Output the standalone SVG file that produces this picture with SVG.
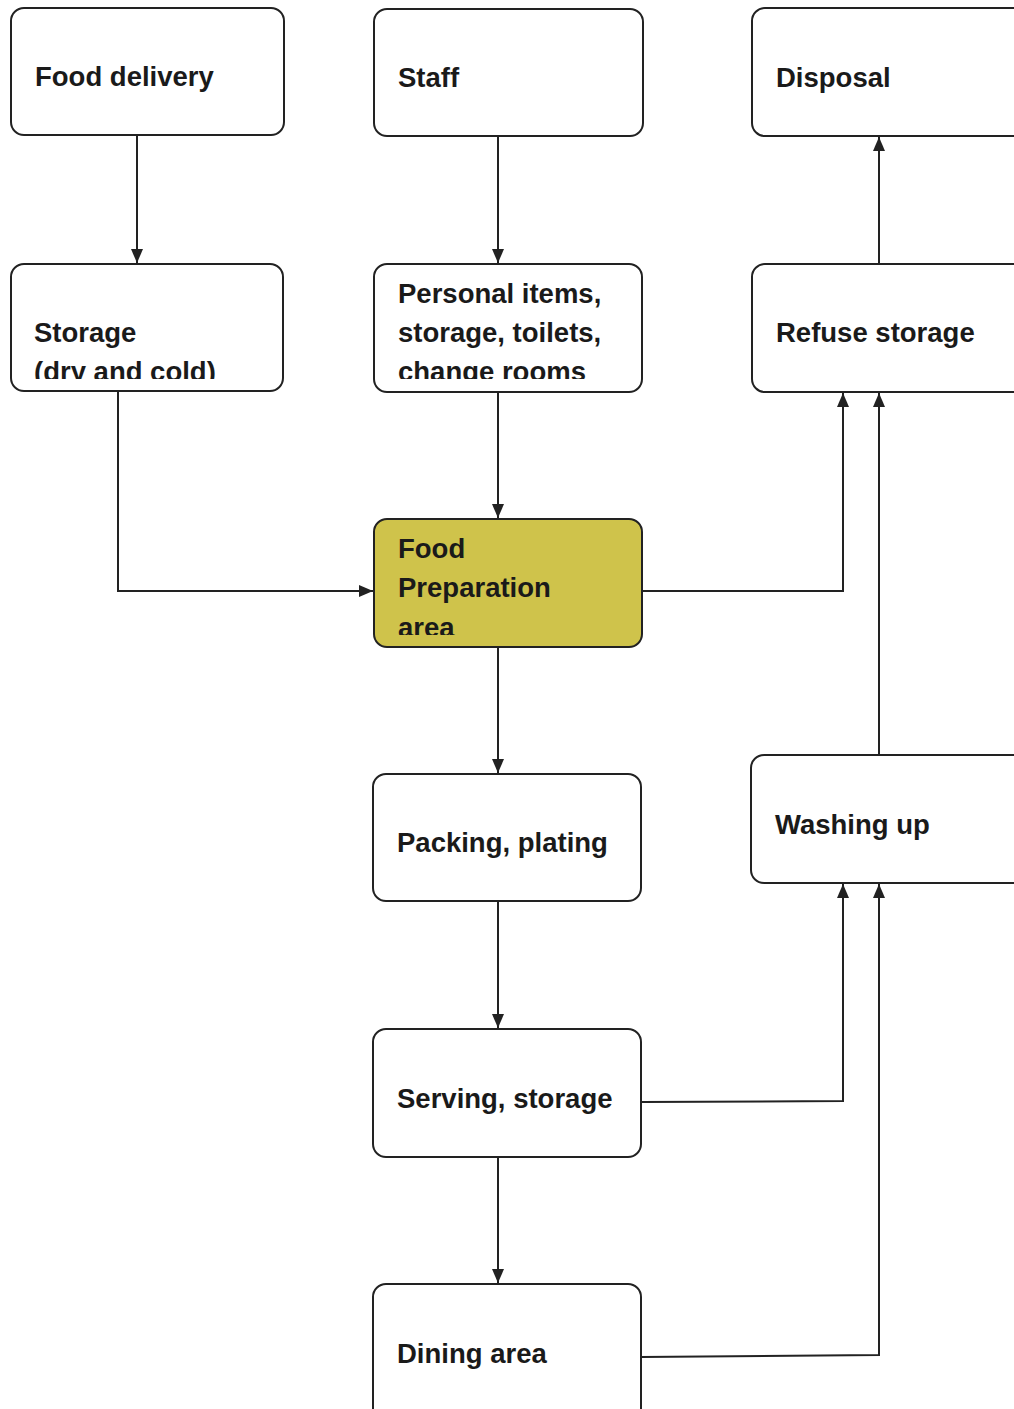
<svg xmlns="http://www.w3.org/2000/svg" width="1014" height="1409" viewBox="0 0 1014 1409">
<style>
.box{fill:#fff;stroke:#222;stroke-width:2}
.hl{fill:#cfc34b;stroke:#222;stroke-width:2}
.t{font-family:"Liberation Sans",Arial,sans-serif;font-weight:bold;font-size:27.5px;fill:#1a1a1a}
.c{fill:none;stroke:#222;stroke-width:2}
</style>
<defs>
<marker id="ah" viewBox="0 0 14 14" refX="14" refY="7" markerWidth="14" markerHeight="14" markerUnits="userSpaceOnUse" orient="auto">
<path d="M0,1 L14,7 L0,13 Z" fill="#222"/>
</marker>
<clipPath id="cStorage"><rect x="11" y="264" width="272" height="115"/></clipPath>
<clipPath id="cPersonal"><rect x="374" y="264" width="268" height="115"/></clipPath>
<clipPath id="cPrep"><rect x="374" y="519" width="268" height="116"/></clipPath>
</defs>
<rect width="1014" height="1409" fill="#fff"/>
<g id="connectors">
<path class="c" d="M137,135 V263" marker-end="url(#ah)"/>
<path class="c" d="M498,136 V263" marker-end="url(#ah)"/>
<path class="c" d="M118,391 V591 H373" marker-end="url(#ah)"/>
<path class="c" d="M498,392 V518" marker-end="url(#ah)"/>
<path class="c" d="M642,591 H843 V393" marker-end="url(#ah)"/>
<path class="c" d="M879,264 V137" marker-end="url(#ah)"/>
<path class="c" d="M879,755 V393" marker-end="url(#ah)"/>
<path class="c" d="M498,647 V773" marker-end="url(#ah)"/>
<path class="c" d="M498,901 V1028" marker-end="url(#ah)"/>
<path class="c" d="M641,1102 L843,1101 V884" marker-end="url(#ah)"/>
<path class="c" d="M498,1157 V1283" marker-end="url(#ah)"/>
<path class="c" d="M641,1357 L879,1355 V884" marker-end="url(#ah)"/>
</g>
<g id="food-delivery"><rect class="box" x="11" y="8" width="273" height="127" rx="13"/><text class="t" x="35" y="86">Food delivery</text></g>
<g id="staff"><rect class="box" x="374" y="9" width="269" height="127" rx="13"/><text class="t" x="398" y="87">Staff</text></g>
<g id="disposal"><rect class="box" x="752" y="8" width="280" height="128" rx="13"/><text class="t" x="776" y="87">Disposal</text></g>
<g id="storage"><rect class="box" x="11" y="264" width="272" height="127" rx="13"/><text class="t" clip-path="url(#cStorage)"><tspan x="34" y="342">Storage</tspan><tspan x="34" y="381">(dry and cold)</tspan></text></g>
<g id="personal-items"><rect class="box" x="374" y="264" width="268" height="128" rx="13"/><text class="t" clip-path="url(#cPersonal)"><tspan x="398" y="303">Personal items,</tspan><tspan x="398" y="342">storage, toilets,</tspan><tspan x="398" y="381">change rooms</tspan></text></g>
<g id="refuse-storage"><rect class="box" x="752" y="264" width="280" height="128" rx="13"/><text class="t" x="776" y="342">Refuse storage</text></g>
<g id="food-preparation"><rect class="hl" x="374" y="519" width="268" height="128" rx="13"/><text class="t" clip-path="url(#cPrep)"><tspan x="398" y="558">Food</tspan><tspan x="398" y="597">Preparation</tspan><tspan x="398" y="637">area</tspan></text></g>
<g id="packing-plating"><rect class="box" x="373" y="774" width="268" height="127" rx="13"/><text class="t" x="397" y="852">Packing, plating</text></g>
<g id="washing-up"><rect class="box" x="751" y="755" width="280" height="128" rx="13"/><text class="t" x="775" y="834">Washing up</text></g>
<g id="serving-storage"><rect class="box" x="373" y="1029" width="268" height="128" rx="13"/><text class="t" x="397" y="1108">Serving, storage</text></g>
<g id="dining-area"><rect class="box" x="373" y="1284" width="268" height="140" rx="13"/><text class="t" x="397" y="1363">Dining area</text></g>
</svg>
